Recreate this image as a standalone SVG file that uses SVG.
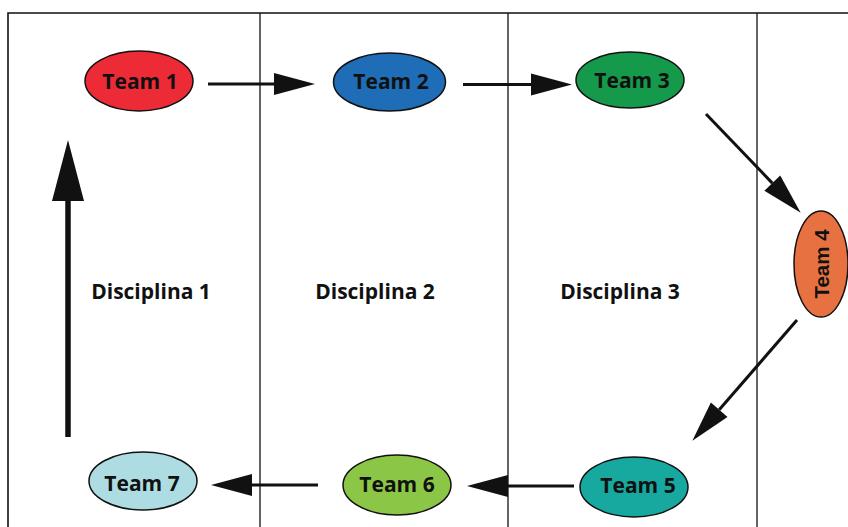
<svg xmlns="http://www.w3.org/2000/svg" width="848" height="527" viewBox="0 0 848 527">
  <style>
    .frame { fill: none; stroke: #111; stroke-width: 1.6; }
    .div { fill: none; stroke: #111; stroke-width: 1.3; }
    .node ellipse { stroke: #111; stroke-width: 1.5; }
    .lbl { font-family: "Open Sans", "Noto Sans", sans-serif; font-weight: bold; font-size: 21px; fill: #111; text-anchor: middle; }
    .lbl4 { font-family: "Liberation Sans", Arial, sans-serif; font-weight: bold; font-size: 20.5px; fill: #111; text-anchor: middle; }
    .conn { fill: none; stroke: #111; stroke-width: 3; }
    .big { stroke-width: 5.5; }
  </style>
  <defs>
    <marker id="head" markerUnits="userSpaceOnUse" orient="auto" refX="0" refY="0" markerWidth="50" markerHeight="30" overflow="visible">
      <path d="M0,-11 L41,0 L0,11 Z" fill="#111"/>
    </marker>
    <marker id="headBig" markerUnits="userSpaceOnUse" orient="auto" refX="0" refY="0" markerWidth="70" markerHeight="40" overflow="visible">
      <path d="M0,-16 L61,0 L0,16 Z" fill="#111"/>
    </marker>
  </defs>

  <rect width="848" height="527" fill="#fff"/>

  <g id="lanes">
    <path class="frame" d="M848,13 H8 V527"/>
    <line class="div" x1="260" y1="13" x2="260" y2="527"/>
    <line class="div" x1="508" y1="13" x2="508" y2="527"/>
    <line class="div" x1="757" y1="13" x2="757" y2="527"/>
    <text class="lbl" x="151" y="299">Disciplina 1</text>
    <text class="lbl" x="375" y="299">Disciplina 2</text>
    <text class="lbl" x="620" y="299">Disciplina 3</text>
  </g>

  <g id="connectors">
    <path class="conn" d="M208,84 H274" marker-end="url(#head)"/>
    <path class="conn" d="M463,84.5 H531" marker-end="url(#head)"/>
    <path class="conn" d="M706,114 L772.3,183.1" marker-end="url(#head)"/>
    <path class="conn" d="M797,320 L719.2,409.8" marker-end="url(#head)"/>
    <path class="conn" d="M574,486 H508" marker-end="url(#head)"/>
    <path class="conn" d="M318,485 H252" marker-end="url(#head)"/>
    <path class="conn big" d="M68,437 V201" marker-end="url(#headBig)"/>
  </g>

  <g id="team1" class="node">
    <ellipse cx="139" cy="81" rx="54" ry="30" fill="#ED2B36"/>
    <text class="lbl" x="140" y="89">Team 1</text>
  </g>
  <g id="team2" class="node">
    <ellipse cx="389.5" cy="82" rx="56" ry="29" fill="#1E6DB6"/>
    <text class="lbl" x="391" y="89">Team 2</text>
  </g>
  <g id="team3" class="node">
    <ellipse cx="630" cy="80" rx="54" ry="28" fill="#159A4B"/>
    <text class="lbl" x="632" y="88">Team 3</text>
  </g>
  <g id="team4" class="node">
    <ellipse cx="821" cy="264" rx="27" ry="53" fill="#E87142"/>
    <text class="lbl4" transform="translate(828.5,264) rotate(-90)" x="0" y="0">Team 4</text>
  </g>
  <g id="team5" class="node">
    <ellipse cx="634" cy="487" rx="54" ry="30" fill="#17A89F"/>
    <text class="lbl" x="638" y="493">Team 5</text>
  </g>
  <g id="team6" class="node">
    <ellipse cx="397" cy="485" rx="54" ry="30" fill="#8BC646"/>
    <text class="lbl" x="397" y="492">Team 6</text>
  </g>
  <g id="team7" class="node">
    <ellipse cx="143" cy="481" rx="54" ry="29" fill="#ADDDE3"/>
    <text class="lbl" x="142" y="491">Team 7</text>
  </g>
</svg>
